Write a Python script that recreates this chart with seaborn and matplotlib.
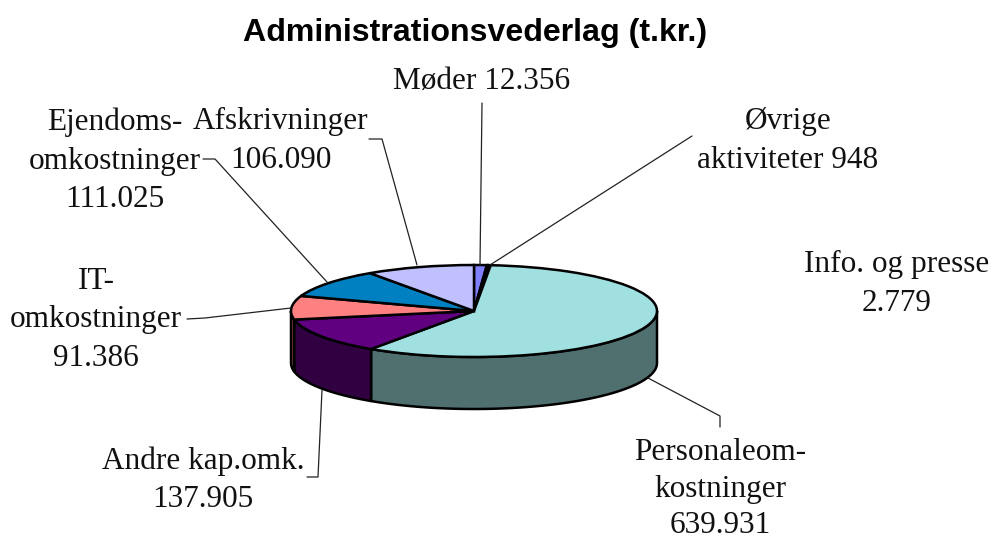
import numpy as np
import matplotlib
matplotlib.use("Agg")
import matplotlib.pyplot as plt
from matplotlib.lines import Line2D
import seaborn as sns

# --- data (clockwise from 12 o'clock) ---
categories = ["Møder", "Øvrige aktiviteter", "Info. og presse", "Personaleomkostninger",
              "Andre kap.omk.", "IT-omkostninger", "Ejendomsomkostninger", "Afskrivninger"]
values = [12356, 948, 2779, 639931, 137905, 91386, 111025, 106090]
top_colors = ["#8080FF", "#FFFFCC", "#CCFFFF", "#A0E0E0", "#600080", "#FF8080", "#0080C0", "#C0C0FF"]
side_colors = ["#404080", "#808066", "#668080", "#507070", "#300040", "#804040", "#004060", "#606080"]
title = "Administrationsvederlag (t.kr.)"
labels = ["Møder 12.356", "Øvrige\naktiviteter 948", "Info. og presse\n2.779",
          "Personaleom-\nkostninger\n639.931", "Andre kap.omk.\n137.905", "IT-\nomkostninger\n91.386",
          "Ejendoms-\nomkostninger\n111.025", "Afskrivninger\n106.090"]

W, H = 994, 542
sns.set_style("white")
fig = plt.figure(figsize=(W / 100, H / 100), dpi=100, facecolor="white")

# axes box = top ellipse of the pie, in pixels
L, R, T, B = 291, 657, 265, 357
ax = fig.add_axes([L / W, 1 - B / H, (R - L) / W, (B - T) / H])
ax.axis("off")

EDGE = 1.8
depth = 52 / ((B - T) / 2)  # wall height in axes data units

# side walls: only the front half (90..270 degrees clockwise from north) is visible
cum = np.cumsum([0] + values) / sum(values) * 360
for a0, a1, c in zip(cum[:-1], cum[1:], side_colors):
    lo, hi = max(a0, 90), min(a1, 270)
    if hi <= lo:
        continue
    th = np.radians(np.linspace(lo, hi, 120))
    x, y = np.sin(th), np.cos(th)
    ax.fill(np.r_[x, x[::-1]], np.r_[y, y[::-1] - depth], facecolor=c,
            edgecolor="black", linewidth=EDGE, clip_on=False, joinstyle="round", zorder=1)

wedges, _ = ax.pie(values, colors=top_colors, startangle=90, counterclock=False, radius=1,
                   wedgeprops=dict(edgecolor="black", linewidth=EDGE, clip_on=False, zorder=2))
ax.set_aspect("auto")
ax.set_xlim(-1, 1)
ax.set_ylim(-1, 1)

SERIF = "Liberation Serif"
FS = 22.5


def px_text(x, y, s, spacing=1.43):
    fig.text(x / W, 1 - y / H, s, ha="center", va="center", family=SERIF, fontsize=FS,
             color="#111111", linespacing=spacing)


def leader(*pts):
    xs = [p[0] / W for p in pts]
    ys = [1 - p[1] / H for p in pts]
    fig.add_artist(Line2D(xs, ys, color="#222222", lw=0.9, transform=fig.transFigure))


fig.text(475 / W, 1 - 33 / H, title, ha="center", va="center", family="Liberation Sans",
         fontweight="bold", fontsize=23.1, color="black")

px_text(482, 81, labels[0])
px_text(788, 141, labels[1])
px_text(897, 284, labels[2])
px_text(720, 489, labels[3], spacing=1.35)
px_text(203, 480, labels[4])
px_text(96, 320, labels[5])
px_text(115, 161, labels[6])
px_text(281, 141, labels[7])

leader((482, 103), (480, 265))
leader((692, 136), (490, 265))
leader((369, 139), (382, 139), (417, 265))
leader((203, 159), (215, 159), (327, 282))
leader((187, 319), (205, 318), (291, 308))
leader((307, 477), (318, 477), (322, 390))
leader((648, 378), (720, 416), (720, 427))

fig.savefig("out.png", dpi=100)
